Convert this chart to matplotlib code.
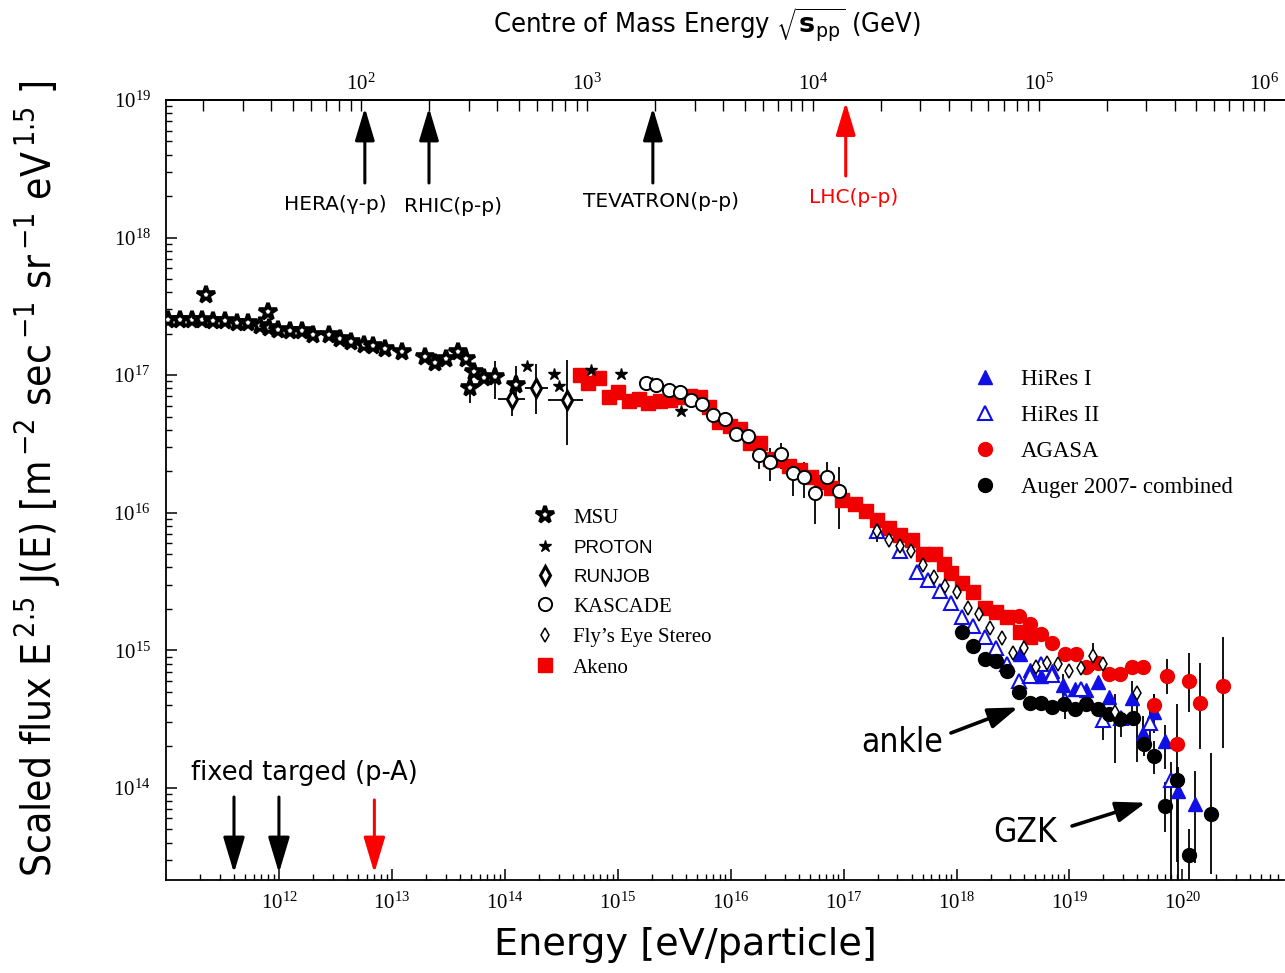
import numpy as np
import matplotlib
matplotlib.use("Agg")
import matplotlib.pyplot as plt
from matplotlib.ticker import LogLocator

# ---------------- data (log10 E [eV], log10 scaled flux) ----------------
msu_logE = [11.02, 11.12, 11.23, 11.32, 11.42, 11.52, 11.63, 11.73, 11.83, 11.91, 11.99,
            12.10, 12.20, 12.30, 12.44, 12.54, 12.64, 12.75, 12.83, 12.94, 13.09, 13.29,
            13.38, 13.48, 13.59, 13.66, 13.69, 13.73, 13.82, 13.91, 14.10, 11.35, 11.90]
msu_logF = [17.40, 17.40, 17.40, 17.40, 17.39, 17.39, 17.38, 17.38, 17.36, 17.34, 17.33,
            17.32, 17.32, 17.29, 17.29, 17.26, 17.24, 17.22, 17.21, 17.19, 17.17, 17.13,
            17.09, 17.12, 17.17, 17.12, 16.91, 17.02, 16.98, 16.99, 16.93, 17.58, 17.46]
msu_err_logE = [13.69, 13.91, 14.10]
msu_err_lo = [16.80, 16.83, 16.85]
msu_err_hi = [16.96, 17.10, 17.07]

proton_logE = [14.20, 14.44, 14.48, 14.76, 15.03, 15.30, 15.56]
proton_logF = [17.07, 17.01, 16.92, 17.04, 17.01, 16.94, 16.74]

runjob_logE = [14.06, 14.28, 14.55]
runjob_logF = [16.83, 16.91, 16.82]
runjob_Elo = [13.94, 14.18, 14.38]
runjob_Ehi = [14.18, 14.38, 14.69]
runjob_Flo = [16.70, 16.72, 16.49]
runjob_Fhi = [16.94, 17.08, 17.11]

kascade_logE = [15.25, 15.34, 15.45, 15.55, 15.65, 15.75, 15.84, 15.95, 16.05, 16.15,
                16.25, 16.35, 16.45, 16.55, 16.65, 16.75, 16.85, 16.96]
kascade_logF = [16.94, 16.93, 16.89, 16.88, 16.82, 16.79, 16.71, 16.68, 16.57, 16.56,
                16.42, 16.37, 16.43, 16.29, 16.26, 16.14, 16.26, 16.16]
kascade_Flo = [16.94, 16.93, 16.89, 16.88, 16.82, 16.79, 16.71, 16.68, 16.54, 16.52,
               16.32, 16.23, 16.32, 16.12, 16.11, 15.92, 16.16, 15.88]
kascade_Fhi = [16.94, 16.93, 16.89, 16.88, 16.82, 16.79, 16.71, 16.68, 16.60, 16.59,
               16.48, 16.47, 16.51, 16.39, 16.37, 16.25, 16.37, 16.33]

fly_logE = [17.30, 17.40, 17.50, 17.60, 17.70, 17.80, 17.90, 18.00, 18.10, 18.20, 18.30,
            18.40, 18.50, 18.60, 18.70, 18.80, 18.90, 19.00, 19.10, 19.21, 19.30, 19.40, 19.60]
fly_logF = [15.87, 15.80, 15.76, 15.72, 15.62, 15.53, 15.47, 15.42, 15.31, 15.26, 15.16,
            15.09, 14.98, 15.02, 14.88, 14.91, 14.90, 14.85, 14.87, 14.96, 14.90, 14.55, 14.69]
fly_err_logE = [19.21, 19.40, 19.60]
fly_err_lo = [14.85, 14.18, 14.19]
fly_err_hi = [15.05, 14.68, 14.70]

akeno_logE = [14.67, 14.74, 14.83, 14.92, 15.00, 15.10, 15.19, 15.27, 15.37, 15.46,
              15.55, 15.64, 15.73, 15.81, 15.90, 15.99, 16.08, 16.17, 16.26, 16.35,
              16.43, 16.52, 16.61, 16.71, 16.80, 16.89, 16.99, 17.10, 17.20, 17.30,
              17.40, 17.50, 17.61, 17.70, 17.81, 17.89, 17.95, 18.05, 18.15, 18.25,
              18.35, 18.45, 18.56, 18.65]
akeno_logF = [17.00, 16.94, 16.98, 16.84, 16.88, 16.81, 16.83, 16.80, 16.81, 16.82,
              16.84, 16.85, 16.84, 16.77, 16.66, 16.63, 16.61, 16.51, 16.51, 16.39,
              16.38, 16.34, 16.31, 16.26, 16.22, 16.18, 16.09, 16.06, 16.01, 15.95,
              15.89, 15.84, 15.80, 15.70, 15.70, 15.63, 15.56, 15.49, 15.42, 15.31,
              15.28, 15.24, 15.13, 15.10]

hires1_logE = [18.56, 18.65, 18.75, 18.85, 18.94, 19.05, 19.15, 19.25, 19.35, 19.55,
               19.65, 19.75, 19.85, 19.96, 20.11]
hires1_logF = [14.97, 14.86, 14.81, 14.85, 14.75, 14.72, 14.71, 14.77, 14.66, 14.65,
               14.40, 14.55, 14.34, 13.98, 13.88]
hires1_err_logE = [18.94, 19.55, 19.65, 19.75, 19.85, 19.96, 20.11]
hires1_err_lo = [14.63, 14.53, 14.27, 14.40, 14.14, 13.30, 13.45]
hires1_err_hi = [14.83, 14.78, 14.52, 14.68, 14.46, 14.15, 14.12]

hires2_logE = [17.30, 17.50, 17.65, 17.75, 17.85, 17.95, 18.05, 18.15, 18.25, 18.35,
               18.45, 18.55, 18.65, 18.75, 18.85, 18.96, 19.10, 19.30, 19.46, 19.71, 19.90]
hires2_logF = [15.87, 15.72, 15.57, 15.51, 15.43, 15.34, 15.24, 15.18, 15.10, 15.02,
               14.90, 14.78, 14.81, 14.90, 14.82, 14.64, 14.72, 14.49, 14.51, 14.47, 14.06]
hires2_err_logE = [17.30, 18.96, 19.30, 19.46, 19.71, 19.90]
hires2_err_lo = [15.79, 14.50, 14.35, 14.37, 14.35, 13.30]
hires2_err_hi = [15.93, 14.71, 14.59, 14.56, 14.59, 14.19]

agasa_logE = [18.55, 18.65, 18.75, 18.85, 18.96, 19.06, 19.15, 19.25, 19.35, 19.45,
              19.55, 19.65, 19.75, 19.86, 19.95, 20.06, 20.16, 20.36]
agasa_logF = [15.25, 15.19, 15.12, 15.05, 14.97, 14.97, 14.88, 14.91, 14.83, 14.83,
              14.88, 14.88, 14.60, 14.81, 14.32, 14.78, 14.62, 14.74]
agasa_err_logE = [19.75, 19.86, 19.95, 20.06, 20.16, 20.36]
agasa_err_lo = [14.52, 14.68, 14.06, 14.55, 14.28, 14.29]
agasa_err_hi = [14.68, 14.94, 14.61, 14.98, 14.91, 15.10]

auger_logE = [18.05, 18.15, 18.25, 18.35, 18.45, 18.55, 18.65, 18.75, 18.85, 18.95, 19.05,
              19.15, 19.25, 19.35, 19.45, 19.56, 19.66, 19.75, 19.85, 19.95, 20.06, 20.25]
auger_logF = [15.13, 15.03, 14.94, 14.92, 14.85, 14.70, 14.62, 14.62, 14.59, 14.61, 14.57,
              14.61, 14.57, 14.54, 14.50, 14.51, 14.32, 14.23, 13.87, 14.06, 13.51, 13.81]
auger_err_logE = [18.55, 19.66, 19.75, 19.85, 19.95, 20.06, 20.25]
auger_err_lo = [14.66, 14.23, 14.10, 13.68, 13.46, 13.30, 13.37]
auger_err_hi = [14.74, 14.42, 14.34, 14.04, 14.15, 13.70, 14.25]

# accelerator reference energies
collider_names = ["HERA(\u03b3-p)", "RHIC(p-p)", "TEVATRON(p-p)", "LHC(p-p)"]
collider_sqrts_GeV = [104, 200, 1960, 14000]
collider_colors = ["black", "black", "black", "red"]
fixed_target_E_eV = [4.0e11, 1.0e12, 7.0e12]
fixed_target_colors = ["black", "black", "red"]

# labelled decades of the energy axis
energy_ticks = [1e12, 1e13, 1e14, 1e15, 1e16, 1e17, 1e18, 1e19, 1e20]

M_P_GEV = 0.938


def E_to_sqrts(E):
    E = np.asarray(E, dtype=float)
    return np.sqrt(np.clip(2.0 * M_P_GEV * E * 1e-9, 1e-30, None))


def sqrts_to_E(s):
    s = np.asarray(s, dtype=float)
    return s ** 2 / (2.0 * M_P_GEV) * 1e9


def P(a):
    return np.power(10.0, np.asarray(a, dtype=float))


RED = "#f00000"
BLUE = "#1010e6"

plt.rcParams["font.family"] = ["DejaVu Sans"]
fig = plt.figure(figsize=(12.85, 9.73), dpi=100)
ax = fig.add_axes([166 / 1285, 93 / 973, 1118 / 1285, 780 / 973])
ax.set_xscale("log")
ax.set_yscale("log")
ax.set_xlim(1e11, 10 ** 20.9)
ax.set_ylim(10 ** 13.33, 1e19)
ax.set_xticks(energy_ticks)
ax.xaxis.set_minor_locator(LogLocator(base=10, subs=np.arange(2, 10), numticks=40))
ax.yaxis.set_minor_locator(LogLocator(base=10, subs=np.arange(2, 10), numticks=40))


def yerr_bars(logE, lo, hi):
    E = P(logE)
    lo_v, hi_v = P(lo), P(hi)
    mid = np.sqrt(lo_v * hi_v)
    ax.errorbar(E, mid, yerr=[mid - lo_v, hi_v - mid], fmt="none",
                ecolor="black", elinewidth=1.3, capsize=0, zorder=2)


# error bars
yerr_bars(msu_err_logE, msu_err_lo, msu_err_hi)
ax.errorbar(P(runjob_logE), P(runjob_logF),
            yerr=[P(runjob_logF) - P(runjob_Flo), P(runjob_Fhi) - P(runjob_logF)],
            xerr=[P(runjob_logE) - P(runjob_Elo), P(runjob_Ehi) - P(runjob_logE)],
            fmt="none", ecolor="black", elinewidth=1.3, capsize=0, zorder=2)
yerr_bars(kascade_logE, kascade_Flo, kascade_Fhi)
yerr_bars(fly_err_logE, fly_err_lo, fly_err_hi)
yerr_bars(hires1_err_logE, hires1_err_lo, hires1_err_hi)
yerr_bars(hires2_err_logE, hires2_err_lo, hires2_err_hi)
yerr_bars(agasa_err_logE, agasa_err_lo, agasa_err_hi)
yerr_bars(auger_err_logE, auger_err_lo, auger_err_hi)

# markers
h_msu, = ax.plot(P(msu_logE), P(msu_logF), ls="none", marker="*", ms=13, mfc="white",
                 mec="black", mew=2.6, zorder=4, label="MSU")
h_pro, = ax.plot(P(proton_logE), P(proton_logF), ls="none", marker="*", ms=9, color="black",
                 zorder=4, label="PROTON")
h_run, = ax.plot(P(runjob_logE), P(runjob_logF), ls="none", marker="d", ms=9, mfc="white",
                 mec="black", mew=2.2, zorder=4, label="RUNJOB")
h_kas, = ax.plot(P(kascade_logE), P(kascade_logF), ls="none", marker="o", ms=9.5,
                 mfc="white", mec="black", mew=1.4, zorder=4, label="KASCADE")
h_fly, = ax.plot(P(fly_logE), P(fly_logF), ls="none", marker="d", ms=7.5, mfc="white",
                 mec="black", mew=1.1, zorder=5, label="Fly\u2019s Eye Stereo")
h_ake, = ax.plot(P(akeno_logE), P(akeno_logF), ls="none", marker="s", ms=9.5, color=RED,
                 zorder=3, label="Akeno")
h_h1, = ax.plot(P(hires1_logE), P(hires1_logF), ls="none", marker="^", ms=9.5, color=BLUE,
                zorder=4, label="HiRes I")
h_h2, = ax.plot(P(hires2_logE), P(hires2_logF), ls="none", marker="^", ms=10, mfc="white",
                mec=BLUE, mew=1.5, zorder=4, label="HiRes II")
h_aga, = ax.plot(P(agasa_logE), P(agasa_logF), ls="none", marker="o", ms=10, color=RED,
                 zorder=4, label="AGASA")
h_aug, = ax.plot(P(auger_logE), P(auger_logF), ls="none", marker="o", ms=10, color="black",
                 zorder=4, label="Auger 2007- combined")

# axes styling
for s in ["left", "bottom", "top"]:
    ax.spines[s].set_linewidth(1.3)
ax.spines["right"].set_visible(False)
ax.tick_params(which="both", direction="in", top=False, right=False)
ax.tick_params(which="major", length=8, width=1.1)
ax.tick_params(which="minor", length=4.5, width=1.0)
ax.tick_params(axis="x", which="major", pad=9, labelsize=15, labelfontfamily="Liberation Serif")
ax.tick_params(axis="y", which="major", pad=11, labelsize=15, labelfontfamily="Liberation Serif")

secax = ax.secondary_xaxis("top", functions=(E_to_sqrts, sqrts_to_E))
secax.tick_params(which="both", direction="in", length=8, width=1.0, pad=4,
                  labelsize=15, labelfontfamily="Liberation Serif")
secax.spines["top"].set_linewidth(1.3)
secax.set_xlabel(r"Centre of Mass Energy $\sqrt{\mathbf{s}_{\mathrm{pp}}}$ (GeV)",
                 fontsize=19.5, fontstretch="condensed", labelpad=29)
secax.xaxis.label.set_x(0.4839)

ax.set_xlabel("Energy [eV/particle]", fontsize=27.5)
ax.xaxis.set_label_coords(0.4642, -0.0833)
ax.xaxis.label.set_va("center")

ax.set_ylabel(r"Scaled flux E$^{\,\mathregular{2.5}}$ J(E) [m$^{\,\mathregular{-2}}$ "
              r"sec$^{\,\mathregular{-1}}$ sr$^{\,\mathregular{-1}}$ eV$^{\,\mathregular{1.5}}$ ]",
              fontsize=29.2, fontstretch="condensed")
ax.yaxis.set_label_coords(-0.1145, 0.514)
ax.yaxis.label.set_va("center")

# collider arrows (top)
top_text_pos = [(0.1512, 0.8654), (0.2567, 0.8641), (0.4428, 0.8705), (0.6154, 0.8756)]
for name, sq, col, (tx, ty) in zip(collider_names, collider_sqrts_GeV, collider_colors, top_text_pos):
    E = sqrts_to_E(sq)
    y0, y1 = (0.8936, 0.990) if col == "black" else (0.9026, 0.997)
    ax.annotate("", xy=(E, y1), xycoords=("data", "axes fraction"),
                xytext=(E, y0), textcoords=("data", "axes fraction"),
                arrowprops=dict(arrowstyle="-|>,head_length=1.0,head_width=0.3",
                                mutation_scale=20, lw=2.2, color=col,
                                shrinkA=0, shrinkB=0))
    ax.text(tx, ty, name, transform=ax.transAxes, ha="center", va="center",
            fontsize=14.5, color=col)

# fixed target arrows (bottom)
for E, col in zip(fixed_target_E_eV, fixed_target_colors):
    y0 = 0.1064 if col == "black" else 0.1026
    ax.annotate("", xy=(E, 0.009), xycoords=("data", "axes fraction"),
                xytext=(E, y0), textcoords=("data", "axes fraction"),
                arrowprops=dict(arrowstyle="-|>,head_length=1.0,head_width=0.3",
                                mutation_scale=22, lw=2.2, color=col,
                                shrinkA=0, shrinkB=0))
ax.text(0.1234, 0.1372, "fixed targed (p-A)", transform=ax.transAxes, ha="center",
        va="center", fontsize=18.5)

# ankle / GZK
ax.text(0.6583, 0.1769, "ankle", transform=ax.transAxes, ha="center", va="center",
        fontsize=24, fontstretch="condensed")
ax.annotate("", xy=(0.7621, 0.2212), xycoords="axes fraction", xytext=(0.7021, 0.1885),
            textcoords="axes fraction",
            arrowprops=dict(arrowstyle="-|>,head_length=1.0,head_width=0.35", mutation_scale=18,
                            lw=2.6, color="black", shrinkA=0, shrinkB=0))
ax.text(0.7683, 0.0615, "GZK", transform=ax.transAxes, ha="center", va="center",
        fontsize=24, fontstretch="condensed")
ax.annotate("", xy=(0.8763, 0.0991), xycoords="axes fraction", xytext=(0.8104, 0.0692),
            textcoords="axes fraction",
            arrowprops=dict(arrowstyle="-|>,head_length=1.0,head_width=0.35", mutation_scale=18,
                            lw=2.6, color="black", shrinkA=0, shrinkB=0))

# legends
leg1 = ax.legend(handles=[h_msu, h_pro, h_run, h_kas, h_fly, h_ake], loc="upper left",
                 bbox_to_anchor=(0.3297, 0.4770), frameon=False, numpoints=1,
                 handlelength=1.0, handletextpad=0.85, labelspacing=0.52,
                 borderaxespad=0, borderpad=0,
                 prop={"family": "Liberation Serif", "size": 15})
for i in (1, 2):
    leg1.get_texts()[i].set_fontfamily("Liberation Sans")
    leg1.get_texts()[i].set_fontsize(13.5)
ax.add_artist(leg1)
leg2 = ax.legend(handles=[h_h1, h_h2, h_aga, h_aug], loc="upper left",
                 bbox_to_anchor=(0.7223, 0.655), frameon=False, numpoints=1,
                 handlelength=1.0, handletextpad=1.07, labelspacing=0.645,
                 borderaxespad=0, borderpad=0,
                 prop={"family": "Liberation Serif", "size": 16.5})

fig.savefig("out.png", dpi=100, facecolor="white")
